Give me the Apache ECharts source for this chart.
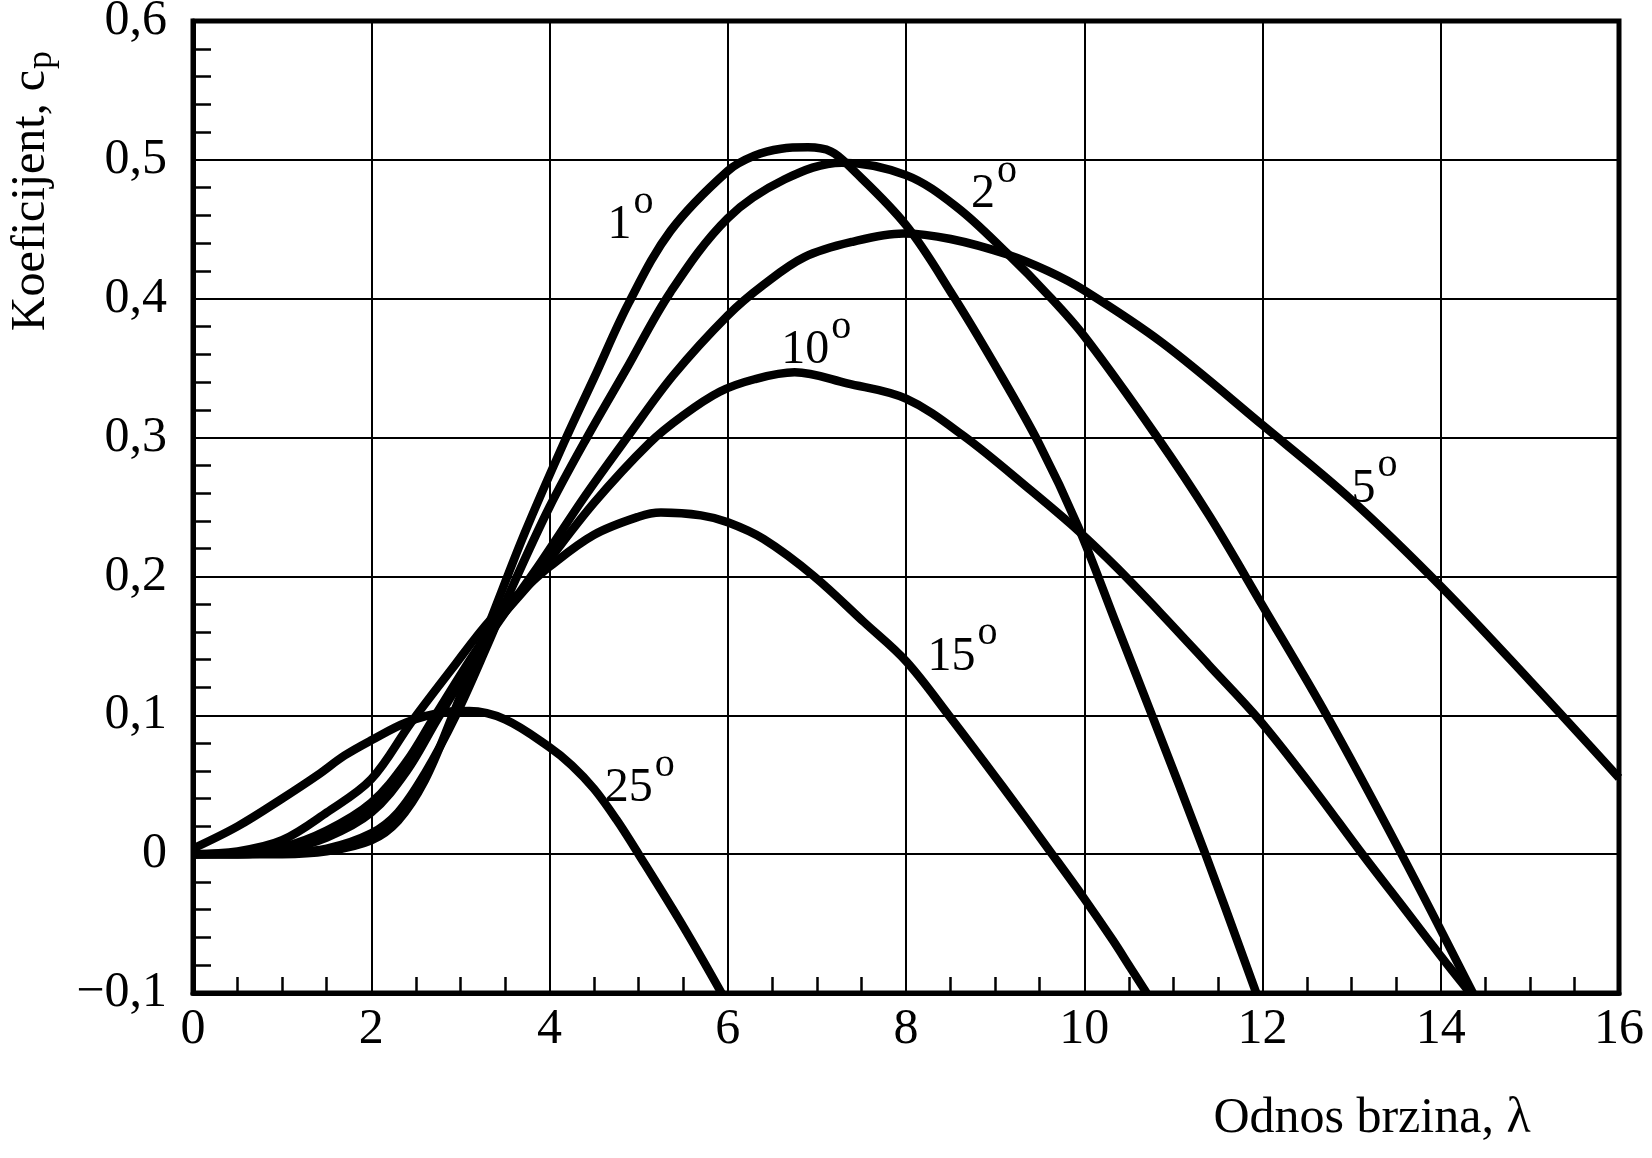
<!DOCTYPE html>
<html lang="en">
<head>
<meta charset="UTF-8">
<title>Koeficijent cp - odnos brzina</title>
<script src="https://cdn.jsdelivr.net/npm/echarts@6/dist/echarts.min.js"></script>
<style>
    html, body { margin: 0; padding: 0; background: #fff; }
    #main { width: 1652px; height: 1158px; }
</style>
</head>
<body>
<div id="main"></div>
<script type="text/javascript">
    // [lambda, cp], one list per pitch angle
    var curve1 = [[0,0],[0.5,0],[1,0],[1.5,0.002],[2,0.01],[2.3,0.024],[2.6,0.053],[2.9,0.098],[3.34,0.169],[3.72,0.231],[4.16,0.296],[4.5,0.343],[4.89,0.397],[5.36,0.449],[6,0.492],[6.3,0.503],[6.6,0.508],[6.9,0.509],[7.16,0.506],[7.37,0.495],[8,0.453],[8.53,0.402],[9,0.352],[9.49,0.296],[9.93,0.236],[10.37,0.164],[10.76,0.1],[11.36,0],[11.93,-0.1]];
    var curve2 = [[0,0],[0.5,0],[1,0.001],[1.5,0.004],[2,0.015],[2.3,0.03],[2.6,0.058],[2.95,0.1],[3.3,0.15],[3.6,0.195],[4,0.25],[4.42,0.3],[4.85,0.348],[5.36,0.405],[6,0.458],[6.64,0.486],[7.28,0.498],[8,0.489],[8.57,0.466],[9.13,0.433],[9.59,0.403],[10,0.373],[10.8,0.302],[11.4,0.244],[12,0.179],[12.72,0.1],[13.56,0],[14.36,-0.1]];
    var curve5 = [[0,0],[0.5,0],[1,0.003],[1.5,0.012],[2,0.03],[2.4,0.06],[2.75,0.098],[3.3,0.155],[3.9,0.21],[4.4,0.258],[4.87,0.3],[5.39,0.345],[6,0.388],[6.4,0.41],[6.86,0.43],[7.4,0.441],[7.97,0.447],[8.5,0.443],[9.13,0.432],[9.59,0.42],[10,0.406],[10.88,0.368],[12,0.309],[13,0.255],[14,0.193],[15,0.125],[16,0.055]];
    var curve10 = [[0,0],[0.5,0.001],[1,0.005],[1.5,0.017],[2,0.037],[2.4,0.067],[2.7,0.098],[3.3,0.158],[3.85,0.2],[4.5,0.253],[5.12,0.296],[5.5,0.316],[5.91,0.333],[6.3,0.342],[6.75,0.347],[7.34,0.339],[8,0.328],[8.65,0.301],[9.4,0.262],[9.93,0.233],[10.37,0.206],[10.88,0.172],[11.4,0.136],[11.96,0.097],[12.54,0.05],[13.12,0],[13.6,-0.04],[14.08,-0.08],[14.33,-0.1]];
    var curve15 = [[0,0],[0.5,0.002],[1,0.01],[1.5,0.03],[2,0.054],[2.45,0.095],[2.9,0.133],[3.34,0.169],[3.7,0.19],[4,0.207],[4.5,0.23],[5,0.243],[5.25,0.246],[5.7,0.244],[6,0.239],[6.4,0.227],[6.97,0.2],[7.53,0.167],[8,0.139],[8.48,0.1],[9.08,0.049],[9.64,0],[10,-0.032],[10.32,-0.062],[10.52,-0.082],[10.7,-0.1]];
    var curve25 = [[0,0.004],[0.5,0.02],[1,0.04],[1.4,0.057],[1.7,0.071],[2,0.082],[2.4,0.095],[2.8,0.102],[3.1,0.103],[3.5,0.097],[4,0.077],[4.25,0.064],[4.5,0.047],[4.75,0.025],[5,0],[5.5,-0.052],[5.93,-0.1]];

    var angles = ['1', '2', '5', '10', '15', '25'];
    var curves = [curve1, curve2, curve5, curve10, curve15, curve25];
    // angle labels: point between the number and the small "o", in [lambda, cp]
    var labelAt = [[4.93,0.453],[9.01,0.475],[13.28,0.263],[7.15,0.363],[8.79,0.142],[5.17,0.047]];

    var font = '"Liberation Serif", "Times New Roman", serif';

    function fmtY(v) {
        var r = Math.round(v * 10) / 10;
        if (r === 0) return '0';
        return (r < 0 ? '\u2212' : '') + Math.abs(r).toFixed(1).replace('.', ',');
    }

    var series = [];
    for (var i = 0; i < curves.length; i++) {
        series.push({
            name: angles[i] + '°',
            type: 'line',
            data: curves[i],
            smooth: 0.35,
            symbol: 'none',
            lineStyle: { color: '#000', width: 8.5 },
            emphasis: { disabled: true },
            markPoint: {
                symbol: 'circle',
                symbolSize: 1,
                itemStyle: { color: 'rgba(0,0,0,0)' },
                label: { show: true, position: 'inside', color: '#000', fontFamily: font, verticalAlign: 'middle' },
                data: [
                    { coord: labelAt[i], label: { formatter: angles[i], fontSize: 48, align: 'right', offset: [-1, 0] } },
                    { coord: labelAt[i], label: { formatter: 'o', fontSize: 40, align: 'left', offset: [1, -23] } }
                ]
            }
        });
    }

    var myChart = echarts.init(document.getElementById('main'));
    var option = {
        animation: false,
        backgroundColor: '#fff',
        grid: {
            left: 193, top: 21, right: 33, bottom: 165,
            show: true, borderColor: '#000', borderWidth: 5,
            outerBoundsMode: 'none'
        },
        xAxis: {
            type: 'value', min: 0, max: 16, interval: 2,
            axisLine: { show: true, onZero: false, lineStyle: { color: '#000', width: 5 } },
            axisTick: { show: true, inside: true, length: 16, lineStyle: { color: '#000', width: 2 } },
            minorTick: { show: true, splitNumber: 4, length: 16, lineStyle: { color: '#000', width: 2.5 } },
            splitLine: { show: true, lineStyle: { color: '#000', width: 2 } },
            axisLabel: { fontFamily: font, fontSize: 50, color: '#000', margin: 12 }
        },
        yAxis: {
            type: 'value', min: -0.1, max: 0.6, interval: 0.1,
            axisLine: { show: true, onZero: false, lineStyle: { color: '#000', width: 5 } },
            axisTick: { show: true, inside: true, length: 18, lineStyle: { color: '#000', width: 2 } },
            minorTick: { show: true, splitNumber: 5, length: 18, lineStyle: { color: '#000', width: 2.5 } },
            splitLine: { show: true, lineStyle: { color: '#000', width: 2 } },
            axisLabel: { fontFamily: font, fontSize: 50, color: '#000', margin: 26, formatter: fmtY }
        },
        graphic: [
            {
                type: 'text', x: 31, y: 70, rotation: Math.PI / 2,
                style: {
                    text: 'Koeficijent, c', fontFamily: font, fontSize: 48, fill: '#000',
                    align: 'right', verticalAlign: 'middle'
                }
            },
            {
                type: 'text', x: 42, y: 69, rotation: Math.PI / 2,
                style: {
                    text: 'p', fontFamily: font, fontSize: 36, fill: '#000',
                    align: 'left', verticalAlign: 'middle'
                }
            },
            {
                type: 'text', x: 1372, y: 1119,
                style: {
                    text: 'Odnos brzina, \u03bb',
                    fontFamily: font, fontSize: 50, fill: '#000',
                    align: 'center', verticalAlign: 'middle'
                }
            }
        ],
        series: series
    };
    myChart.setOption(option);
</script>
</body>
</html>
